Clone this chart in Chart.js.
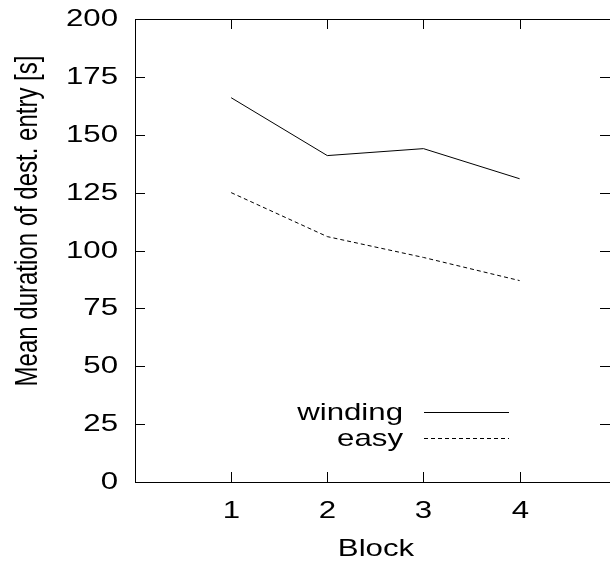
<!DOCTYPE html>
<html lang="en">

<head>
    <meta charset="UTF-8">
    <title>Mean duration of dest. entry</title>
    <script src="https://cdn.jsdelivr.net/npm/chart.js"></script>
    <style>
        body { margin: 0; background: #fff; }
        #wrap { width: 610px; height: 567px; }
    </style>
</head>

<body>
    <div id="wrap"><canvas id="lineChart"></canvas></div>

    <script>
        // data
        const blocks = [1, 2, 3, 4];
        const winding = [166, 141, 144, 131];
        const easy = [125, 106, 97, 87];
        const yTicks = [0, 25, 50, 75, 100, 125, 150, 175, 200];

        const FONT = "24px 'Liberation Sans', Arial, sans-serif";
        const STRETCH = 1.3; // the source picture is wider than tall

        // stretched text, like the original
        function text(ctx, str, x, y, align, rotate) {
            ctx.save();
            ctx.translate(x, y);
            ctx.scale(STRETCH, 1);
            if (rotate) ctx.rotate(-Math.PI / 2);
            ctx.textAlign = align;
            ctx.textBaseline = 'middle';
            ctx.fillText(str, 0, 0);
            ctx.restore();
        }

        // gnuplot style: box, inward ticks on all four sides, labels by hand
        const frame = {
            id: 'frame',
            afterDraw(chart) {
                const { ctx, chartArea: a, scales: { x, y } } = chart;
                ctx.save();
                ctx.strokeStyle = '#000';
                ctx.fillStyle = '#000';
                ctx.lineWidth = 1;
                ctx.font = FONT;
                ctx.beginPath();
                ctx.rect(a.left + 0.5, a.top + 0.5, a.right - a.left + 2, a.bottom - a.top);
                blocks.forEach(b => {
                    const px = Math.round(x.getPixelForValue(b)) + 0.5;
                    ctx.moveTo(px, a.bottom); ctx.lineTo(px, a.bottom - 10);
                    ctx.moveTo(px, a.top); ctx.lineTo(px, a.top + 10);
                    text(ctx, String(b), px, a.bottom + 29, 'center');
                });
                yTicks.forEach(v => {
                    const py = Math.round(y.getPixelForValue(v)) + 0.5;
                    ctx.moveTo(a.left, py); ctx.lineTo(a.left + 10, py);
                    ctx.moveTo(a.right, py); ctx.lineTo(a.right - 10, py);
                    text(ctx, String(v), a.left - 17, py, 'right');
                });
                ctx.stroke();

                text(ctx, 'Mean duration of dest. entry [s]', 28, 221, 'center', true);
                text(ctx, 'Block', 376, 549, 'center');

                // legend: text right aligned, sample line on its right
                chart.data.datasets.forEach((ds, i) => {
                    const ly = 412 + i * 26;
                    text(ctx, ds.label, 403, ly + 1, 'right');
                    ctx.beginPath();
                    ctx.setLineDash(ds.borderDash || []);
                    ctx.moveTo(424, ly + 0.5);
                    ctx.lineTo(509, ly + 0.5);
                    ctx.stroke();
                });
                ctx.restore();
            }
        };

        const ctx = document.getElementById('lineChart').getContext('2d');
        new Chart(ctx, {
            type: 'line',
            data: {
                datasets: [
                    {
                        label: 'winding',
                        data: blocks.map((b, i) => ({ x: b, y: winding[i] })),
                        borderColor: '#000',
                        borderWidth: 1,
                        pointRadius: 0,
                        tension: 0
                    },
                    {
                        label: 'easy',
                        data: blocks.map((b, i) => ({ x: b, y: easy[i] })),
                        borderColor: '#000',
                        borderWidth: 1,
                        borderDash: [4, 3],
                        pointRadius: 0,
                        tension: 0
                    }
                ]
            },
            options: {
                responsive: true,
                maintainAspectRatio: false,
                animation: false,
                layout: { padding: { top: 19, right: 0, left: 0, bottom: 0 } },
                plugins: {
                    legend: { display: false },
                    tooltip: { enabled: false }
                },
                scales: {
                    x: {
                        type: 'linear',
                        min: 0,
                        max: 4.94,
                        afterBuildTicks: s => { s.ticks = blocks.map(v => ({ value: v })); },
                        afterFit: s => { s.height = 85; },
                        grid: { display: false, drawTicks: false },
                        border: { display: false },
                        ticks: { display: false }
                    },
                    y: {
                        min: 0,
                        max: 200,
                        afterBuildTicks: s => { s.ticks = yTicks.map(v => ({ value: v })); },
                        afterFit: s => { s.width = 135; },
                        grid: { display: false, drawTicks: false },
                        border: { display: false },
                        ticks: { display: false }
                    }
                }
            },
            plugins: [frame]
        });
    </script>
</body>

</html>
